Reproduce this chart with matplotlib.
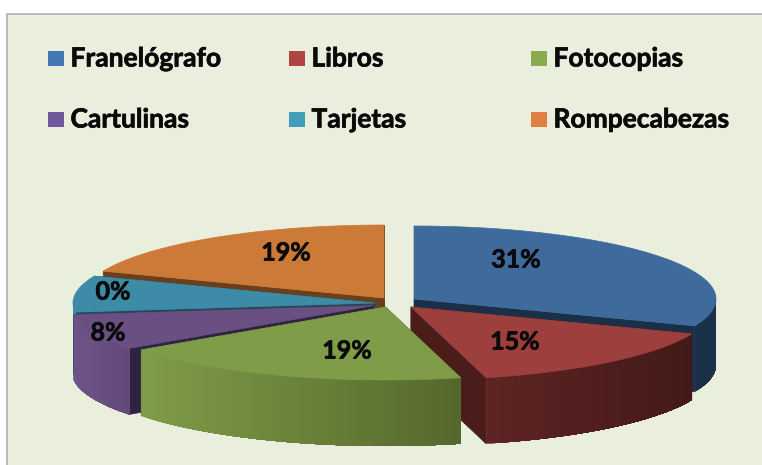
import numpy as np
import matplotlib
matplotlib.use('Agg')
import matplotlib.pyplot as plt
import matplotlib.patheffects as pe
from matplotlib.patches import Polygon, Rectangle
from matplotlib.colors import LinearSegmentedColormap

# Data
categories = ['Franelógrafo', 'Libros', 'Fotocopias', 'Cartulinas', 'Tarjetas', 'Rompecabezas']
shares = [31, 15, 19, 8, 8, 19]  # slice sizes as drawn
labels = ['31%', '15%', '19%', '8%', '0%', '19%']  # the picture prints 0% on Tarjetas

# Colours
legend_colors = ['#4677b5', '#b04442', '#8aaa4c', '#71589a', '#429db8', '#e08040']
top_colors = ['#3f6b9c', '#9c3f3d', '#7f9c48', '#6a4f82', '#3d8ba6', '#cb7a37']
wall_colors = ['#1a2f48', '#4a1c1a', '#55692e', '#2e2340', '#1f4a5a', '#6b3f1c']
side_left = ['#1a2f48', '#5e2423', '#7f9c48', '#6e5388', '#3d8ba6', '#6b3f1c']
side_right = ['#1a2f48', '#431a18', '#54682d', '#62497a', '#3d8ba6', '#6b3f1c']

# Layout in pixels
apex = [(414, 299), (411, 307), (385.5, 307), (373.5, 305.5), (375, 303), (384, 298)]
label_pos = [(516, 260), (515, 342), (347, 351), (108, 333), (113, 292), (286, 253)]
legend_x = [48, 289, 531]
legend_y = [58.5, 119.5]
draw_order = [5, 0, 4, 3, 1, 2]
rx, ry = 302, 73
depth = 66

plt.rcParams['font.family'] = ['Lato', 'DejaVu Sans']
heavy = [pe.withStroke(linewidth=0.5, foreground='#0a0a0a')]

fig = plt.figure(figsize=(7.62, 4.65), dpi=100)
ax = fig.add_axes([0, 0, 1, 1])
ax.set_xlim(0, 762)
ax.set_ylim(465, 0)
ax.axis('off')

# chart panel
ax.add_patch(Rectangle((7, 14), 770, 470, facecolor='#eaeedd', edgecolor='#b4b4b4', lw=1.3))


def edge_points(cx, cy, a0, a1):
    t = np.radians(np.linspace(a0, a1, max(int(abs(a1 - a0) * 2), 2)))
    return cx + rx * np.sin(t), cy - ry * np.cos(t)


ends = np.cumsum(shares) / np.sum(shares) * 360
starts = np.concatenate([[0], ends[:-1]])

for i in draw_order:
    cx, cy = apex[i]
    a0, a1 = starts[i], ends[i]

    # radial walls
    for a in (a0, a1):
        px, py = edge_points(cx, cy, a, a)
        ax.add_patch(Polygon([(cx, cy), (px[0], py[0]), (px[0], py[0] + depth), (cx, cy + depth)],
                             closed=True, facecolor=wall_colors[i], edgecolor=wall_colors[i], lw=0.5))

    # curved front side, only the part that faces the viewer
    # each strip runs to the end of the side and the next one paints over it, so no seams
    s0, s1 = max(a0, 90), min(a1, 270)
    if s1 > s0:
        x, y = edge_points(cx, cy, s0, s1)
        cmap = LinearSegmentedColormap.from_list('side', [side_left[i], side_right[i]])
        left, right = x.min(), x.max()
        order = np.argsort(x)
        x, y = x[order], y[order]
        for k in range(len(x) - 1):
            c = cmap((x[k] - left) / max(right - left, 1))
            outline = list(zip(x[k:], y[k:])) + list(zip(x[k:][::-1], y[k:][::-1] + depth))
            ax.add_patch(Polygon(outline, closed=True, facecolor=c, edgecolor='none'))

    # top face
    x, y = edge_points(cx, cy, a0, a1)
    pts = [(cx, cy)] + list(zip(x, y))
    ax.add_patch(Polygon(pts, closed=True, facecolor=top_colors[i], edgecolor=top_colors[i], lw=0.5))

# percent labels
for lab, (lx, ly) in zip(labels, label_pos):
    ax.text(lx, ly, lab, fontsize=18, fontweight='bold', color='#0a0a0a', ha='center', va='center',
            path_effects=heavy)

# legend, 3 columns 2 rows
for i, name in enumerate(categories):
    lx = legend_x[i % 3]
    ly = legend_y[i // 3]
    ax.add_patch(Rectangle((lx, ly - 7.5), 16, 15, facecolor=legend_colors[i], edgecolor='none'))
    ax.text(lx + 22.5, ly, name, fontsize=19, fontweight='bold', color='#0a0a0a', ha='left', va='center',
            path_effects=heavy)

fig.savefig('out.png', dpi=100, facecolor='white')
